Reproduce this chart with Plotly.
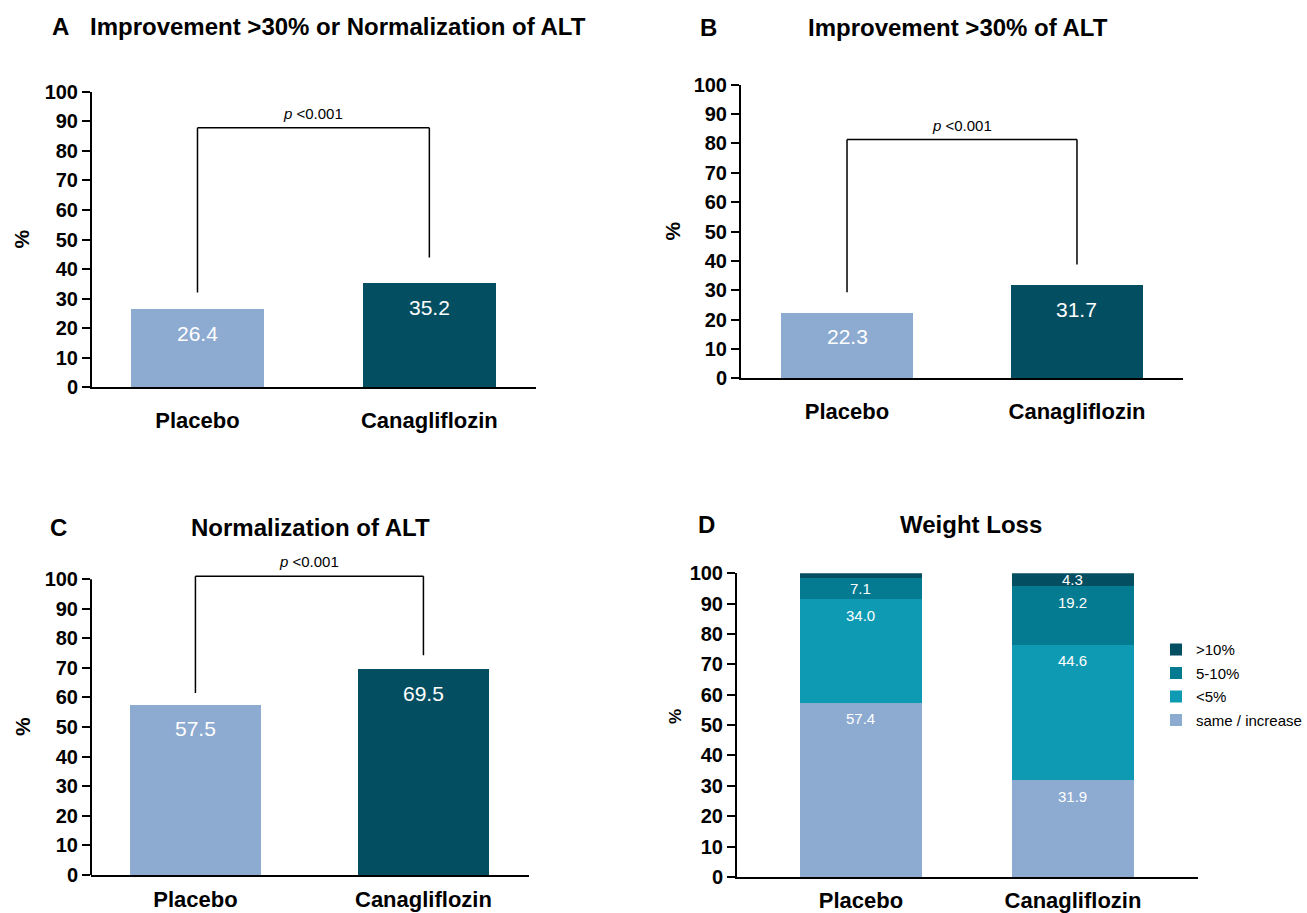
import plotly.graph_objects as go

W, H = 1307, 913
FONT = "Liberation Sans, Arial, sans-serif"

# ---------------- data ----------------
groups = ["Placebo", "Canagliflozin"]
alt_improve_or_norm = [26.4, 35.2]   # panel A
alt_improve = [22.3, 31.7]           # panel B
alt_norm = [57.5, 69.5]              # panel C

wl_categories = ["same / increase", "<5%", "5-10%", ">10%"]
wl_placebo = [57.4, 34.0, 7.1, 1.5]
wl_cana = [31.9, 44.6, 19.2, 4.3]
wl_labels_placebo = ["57.4", "34.0", "7.1", ""]
wl_labels_cana = ["31.9", "44.6", "19.2", "4.3"]

p_text = "<i>p</i> <0.001"
y_ticks = list(range(0, 101, 10))

# ---------------- styles ----------------
C_PLACEBO = "#8DAAD1"
C_CANA = "#044E61"
WL_COLORS = ["#8DAAD1", "#0F9AB3", "#057B92", "#044E61"]

# observed vertical mapping of the viewer (figure px -> picture px)
V_OFF, V_SC = 11.23, 0.9758


def fy(y):
    """picture pixel row -> figure pixel row"""
    return (y - V_OFF) / V_SC


def px_x(x):
    return x / W


def px_y(y):
    return 1 - fy(y) / H


fig = go.Figure()

panels = {
    "A": dict(ax="", x=(92, 536), y100=92, y0=388, ymax=100, xr=(-0.455, 1.46), so=12),
    "B": dict(ax="2", x=(741, 1183), y100=85, y0=379, ymax=100, xr=(-0.461, 1.461), so=12),
    "C": dict(ax="3", x=(91, 529), y100=580, y0=876, ymax=106, xr=(-0.458, 1.463), so=4),
    "D": dict(ax="4", x=(737, 1198), y100=574, y0=878, ymax=100, xr=(-0.585, 1.59), so=3),
}

simple = {"A": alt_improve_or_norm, "B": alt_improve, "C": alt_norm}
brackets = {"A": (32.1, 43.9, 87.8), "B": (29.3, 38.8, 81.3), "C": (61.5, 74.3, 101.0)}

annotations = []
shapes = []

for key, vals in simple.items():
    p = panels[key]
    ax = p["ax"]
    fig.add_trace(go.Bar(
        x=[0, 1], y=vals, width=0.575,
        marker=dict(color=[C_PLACEBO, C_CANA], line=dict(width=0)),
        xaxis="x" + ax, yaxis="y" + ax, showlegend=False, hoverinfo="skip",
    ))
    for i, v in enumerate(vals):
        annotations.append(dict(
            x=i, y=v, xref="x" + ax, yref="y" + ax, text=f"{v:.1f}",
            showarrow=False, yanchor="middle", yshift=-24,
            font=dict(family=FONT, size=21, color="white"),
        ))
    lb, rb, top = brackets[key]
    for (x0, y0, x1, y1) in [(0, lb, 0, top), (0, top, 1, top), (1, top, 1, rb)]:
        shapes.append(dict(type="line", xref="x" + ax, yref="y" + ax,
                           x0=x0, y0=y0, x1=x1, y1=y1,
                           line=dict(color="black", width=1.5)))
    annotations.append(dict(
        x=0.5, y=top, xref="x" + ax, yref="y" + ax, text=p_text,
        showarrow=False, yanchor="bottom", yshift=4,
        font=dict(family=FONT, size=15, color="black"),
    ))

# panel D stacked bars
pD = panels["D"]
d_px_per_unit = (fy(pD["y0"]) - fy(pD["y100"])) / 100.0
for j, cat in enumerate(wl_categories):
    fig.add_trace(go.Bar(
        x=[0, 1], y=[wl_placebo[j], wl_cana[j]], width=0.575,
        name=cat, legendgroup=cat, legendrank=len(wl_categories) - j,
        marker=dict(color=WL_COLORS[j], line=dict(width=0)),
        xaxis="x4", yaxis="y4", hoverinfo="skip",
    ))
for i, (series, labels) in enumerate([(wl_placebo, wl_labels_placebo),
                                      (wl_cana, wl_labels_cana)]):
    cum = 0.0
    for v, lab in zip(series, labels):
        cum += v
        if not lab:
            continue
        shift = -min(16.0, v * d_px_per_unit / 2.0)
        annotations.append(dict(
            x=i, y=cum, xref="x4", yref="y4", text=lab, showarrow=False,
            yanchor="middle", yshift=shift,
            font=dict(family=FONT, size=15, color="white"),
        ))

layout_axes = {}
for key, p in panels.items():
    ax = p["ax"]
    scale = (fy(p["y0"]) - fy(p["y100"])) / 100.0
    ytop = fy(p["y0"]) - scale * p["ymax"]
    layout_axes["xaxis" + ax] = dict(
        domain=[px_x(p["x"][0]), px_x(p["x"][1])], range=list(p["xr"]),
        anchor="y" + ax, tickvals=[0, 1], ticktext=groups,
        showline=True, linecolor="black", linewidth=2, ticks="",
        showgrid=False, zeroline=False, ticklabelstandoff=p["so"],
        tickfont=dict(family=FONT, size=22, color="black", weight="bold"),
        fixedrange=True,
    )
    layout_axes["yaxis" + ax] = dict(
        domain=[1 - fy(p["y0"]) / H, 1 - ytop / H], range=[0, p["ymax"]],
        anchor="x" + ax, tickvals=y_ticks,
        showline=(p["ymax"] == 100), linecolor="black", linewidth=2,
        ticks="outside", ticklen=8, tickwidth=2, tickcolor="black",
        showgrid=False, zeroline=False,
        tickfont=dict(family=FONT, size=20, color="black", weight="bold"),
        fixedrange=True,
    )
    if p["ymax"] != 100:
        shapes.append(dict(type="line", xref="x" + ax + " domain", yref="y" + ax,
                           x0=0, x1=0, y0=0, y1=100,
                           line=dict(color="black", width=2)))

titles = [
    ("A", 50, 27, "Improvement >30% or Normalization of ALT", 338),
    ("B", 698, 28, "Improvement >30% of ALT", 958),
    ("C", 48, 528, "Normalization of ALT", 310),
    ("D", 696, 525, "Weight Loss", 971),
]
for letter, lx, ty, txt, cx in titles:
    annotations.append(dict(x=px_x(lx), y=px_y(ty), xref="paper", yref="paper",
                            text=letter, showarrow=False, xanchor="left", yanchor="middle",
                            font=dict(family=FONT, size=24, color="black", weight="bold")))
    annotations.append(dict(x=px_x(cx), y=px_y(ty), xref="paper", yref="paper",
                            text=txt, showarrow=False, xanchor="center", yanchor="middle",
                            font=dict(family=FONT, size=24, color="black", weight="bold")))

for (xx, yy, sz) in [(22, 240, 21), (673, 232, 21), (22, 728, 21), (675, 718, 17)]:
    annotations.append(dict(x=px_x(xx), y=px_y(yy), xref="paper", yref="paper",
                            text="%", textangle=-90, showarrow=False,
                            xanchor="center", yanchor="middle",
                            font=dict(family=FONT, size=sz, color="black", weight="bold")))

fig.update_layout(
    width=W, height=H, margin=dict(l=0, r=0, t=0, b=0),
    paper_bgcolor="white", plot_bgcolor="white",
    barmode="stack", showlegend=True,
    legend=dict(x=px_x(1156), y=px_y(634), xanchor="left", yanchor="top",
                traceorder="grouped", tracegroupgap=1,
                bgcolor="rgba(0,0,0,0)",
                font=dict(family=FONT, size=15, color="black")),
    annotations=annotations, shapes=shapes,
    **layout_axes,
)

fig.write_html(
    "out.html",
    config={"displayModeBar": False, "staticPlot": True},
    post_script=(
        "document.documentElement.style.overflow='hidden';"
        "document.body.style.margin='0px';document.body.style.padding='0px';"
        "document.body.style.overflow='hidden';"
        "var gd=document.querySelector('.plotly-graph-div');"
        "gd.style.position='fixed';gd.style.top='0px';gd.style.left='0px';"
    ),
)
